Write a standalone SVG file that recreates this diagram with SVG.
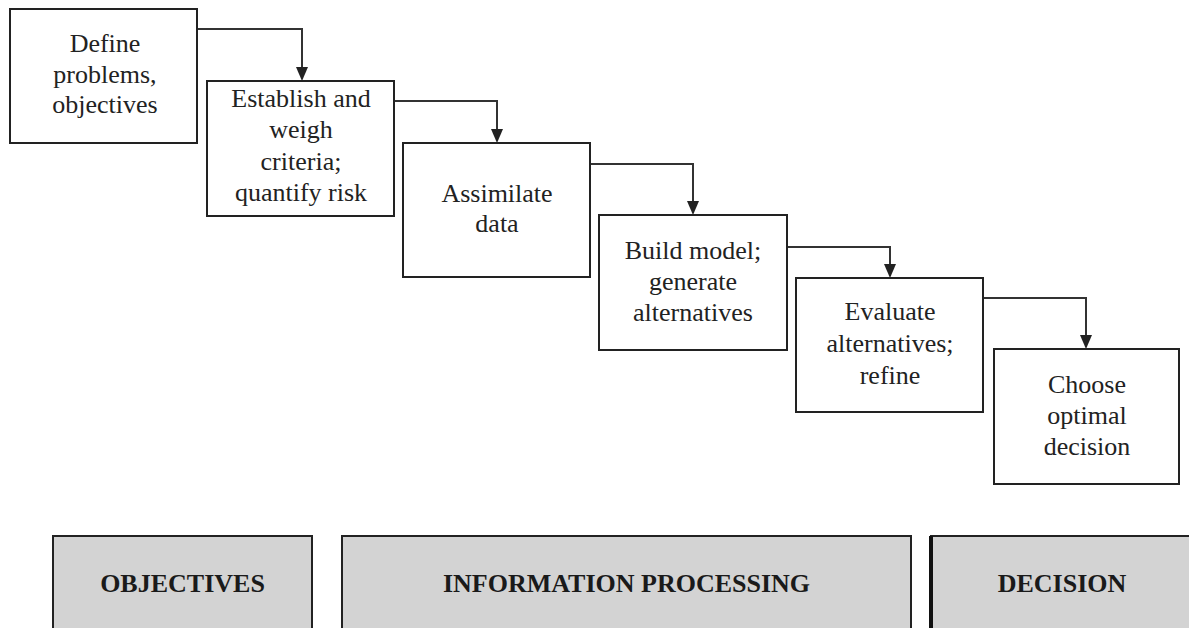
<svg xmlns="http://www.w3.org/2000/svg" width="1189" height="628" viewBox="0 0 1189 628">
<style>
.box{fill:#fff;stroke:#222;stroke-width:2}
.phase{fill:#d3d3d3;stroke:#222;stroke-width:2}
.t{font-family:"Liberation Serif","Times New Roman",serif;font-size:26px;fill:#222;text-anchor:middle}
.b{font-family:"Liberation Serif","Times New Roman",serif;font-size:26px;font-weight:bold;fill:#1a1a1a;text-anchor:middle}
.c{fill:none;stroke:#333;stroke-width:2}
</style>
<defs>
<marker id="ah" markerUnits="userSpaceOnUse" markerWidth="12" markerHeight="14" refX="6" refY="13" orient="auto-start-reverse" viewBox="0 0 12 14">
<path d="M0,0 L12,0 L6,14 Z" fill="#222" transform="rotate(0)"/>
</marker>
</defs>
<g id="connectors">
<path class="c" d="M197,29 H302 V68"/>
<path d="M296,67 L308,67 L302,81 Z" fill="#222"/>
<path class="c" d="M394,101 H497 V130"/>
<path d="M491,129 L503,129 L497,143 Z" fill="#222"/>
<path class="c" d="M590,164 H693 V202"/>
<path d="M687,201 L699,201 L693,215 Z" fill="#222"/>
<path class="c" d="M787,247 H890 V265"/>
<path d="M884,264 L896,264 L890,278 Z" fill="#222"/>
<path class="c" d="M983,298 H1086 V336"/>
<path d="M1080,335 L1092,335 L1086,349 Z" fill="#222"/>
</g>
<g id="n1">
<rect class="box" x="10" y="9" width="187" height="134"/>
<text class="t" x="105" y="52">Define</text>
<text class="t" x="105" y="83">problems,</text>
<text class="t" x="105" y="113">objectives</text>
</g>
<g id="n2">
<rect class="box" x="207" y="81" width="187" height="135"/>
<text class="t" x="301" y="107">Establish and</text>
<text class="t" x="301" y="138">weigh</text>
<text class="t" x="301" y="170">criteria;</text>
<text class="t" x="301" y="201">quantify risk</text>
</g>
<g id="n3">
<rect class="box" x="403" y="143" width="187" height="134"/>
<text class="t" x="497" y="202">Assimilate</text>
<text class="t" x="497" y="232">data</text>
</g>
<g id="n4">
<rect class="box" x="599" y="215" width="188" height="135"/>
<text class="t" x="693" y="259">Build model;</text>
<text class="t" x="693" y="290">generate</text>
<text class="t" x="693" y="321">alternatives</text>
</g>
<g id="n5">
<rect class="box" x="796" y="278" width="187" height="134"/>
<text class="t" x="890" y="320">Evaluate</text>
<text class="t" x="890" y="352">alternatives;</text>
<text class="t" x="890" y="384">refine</text>
</g>
<g id="n6">
<rect class="box" x="994" y="349" width="185" height="135"/>
<text class="t" x="1087" y="393">Choose</text>
<text class="t" x="1087" y="424">optimal</text>
<text class="t" x="1087" y="455">decision</text>
</g>
<g id="p1">
<rect class="phase" x="53" y="536" width="259" height="100"/>
<text class="b" x="182.5" y="592">OBJECTIVES</text>
</g>
<g id="p2">
<rect class="phase" x="342" y="536" width="569" height="100"/>
<text class="b" x="626.5" y="592">INFORMATION PROCESSING</text>
</g>
<g id="p3">
<rect class="phase" x="931" y="536" width="262" height="100"/>
<line x1="931" y1="536" x2="931" y2="636" stroke="#111" stroke-width="4"/>
<text class="b" x="1062" y="592">DECISION</text>
</g>
</svg>
